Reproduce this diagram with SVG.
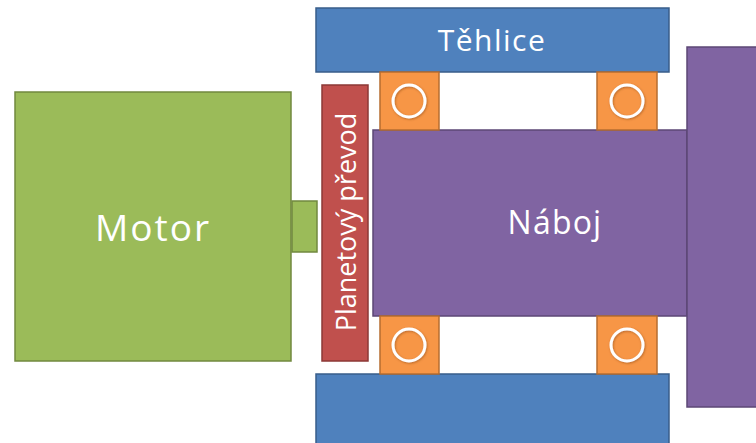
<svg xmlns="http://www.w3.org/2000/svg" width="756" height="443" viewBox="0 0 756 443">
  <style>
    .blue { fill: #4F81BD; stroke: #385D8A; stroke-width: 1.5; }
    .purple { fill: #8064A2; stroke: #5C4776; stroke-width: 1.5; }
    .orange { fill: #F79646; stroke: #B66D31; stroke-width: 1.5; }
    .red { fill: #C0504D; stroke: #8C3836; stroke-width: 1.5; }
    .green { fill: #9BBB59; stroke: #71893F; stroke-width: 1.5; }
    .ring { fill: none; stroke: #FFFFFF; stroke-width: 3; }
    .label { fill: #FFFFFF; font-family: "Open Sans", "Liberation Sans", sans-serif; text-anchor: middle; }
  </style>
  <defs>
    <filter id="soft" x="-30%" y="-30%" width="160%" height="160%">
      <feDropShadow dx="0.8" dy="1" stdDeviation="0.8" flood-color="#7a3d10" flood-opacity="0.5"/>
    </filter>
  </defs>
  <rect width="756" height="443" fill="#FFFFFF"/>

  <!-- housing (top and bottom halves) -->
  <g id="tehlice-top">
    <rect class="blue" x="316" y="8" width="353" height="64"/>
    <text class="label" x="492" y="51" font-size="30" letter-spacing="1.5">Těhlice</text>
  </g>
  <g id="tehlice-bottom">
    <rect class="blue" x="316" y="374" width="353" height="80"/>
  </g>

  <!-- hub -->
  <g id="naboj">
    <rect class="purple" x="373" y="130" width="314" height="186"/>
    <text class="label" x="555" y="234" font-size="32" letter-spacing="1.2">Náboj</text>
  </g>
  <g id="wheel">
    <rect class="purple" x="687" y="47" width="80" height="360"/>
  </g>

  <!-- bearings -->
  <g id="bearing-top-left">
    <rect class="orange" x="380" y="72" width="59" height="58"/>
    <circle class="ring" cx="409" cy="101" r="16" filter="url(#soft)"/>
  </g>
  <g id="bearing-top-right">
    <rect class="orange" x="597" y="72" width="60" height="58"/>
    <circle class="ring" cx="627" cy="101" r="16" filter="url(#soft)"/>
  </g>
  <g id="bearing-bottom-left">
    <rect class="orange" x="380" y="316" width="59" height="58"/>
    <circle class="ring" cx="409" cy="345" r="16" filter="url(#soft)"/>
  </g>
  <g id="bearing-bottom-right">
    <rect class="orange" x="597" y="316" width="60" height="58"/>
    <circle class="ring" cx="627" cy="345" r="16" filter="url(#soft)"/>
  </g>

  <!-- planetary gearbox -->
  <g id="planetovy-prevod">
    <rect class="red" x="322" y="85" width="46" height="276"/>
    <text class="label" font-size="27" transform="translate(355.5 222) rotate(-90)">Planetový převod</text>
  </g>

  <!-- motor and shaft -->
  <g id="motor">
    <rect class="green" x="15" y="92" width="276" height="269"/>
    <text class="label" x="153" y="241" font-size="37" letter-spacing="2">Motor</text>
  </g>
  <g id="hridel">
    <rect class="green" x="292" y="201" width="25" height="51"/>
  </g>

  <g id="connectors"/>
</svg>
